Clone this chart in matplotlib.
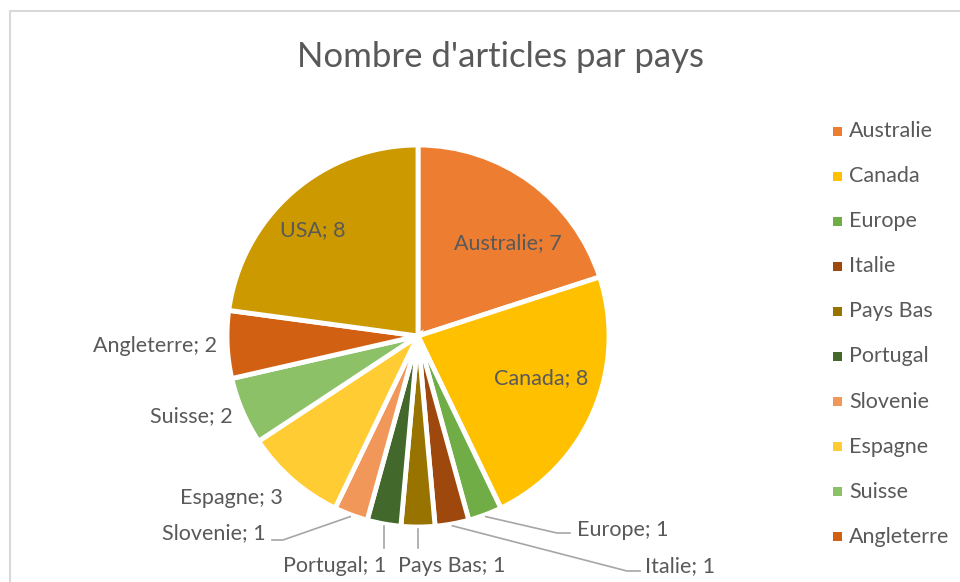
#!/usr/bin/python3

import numpy as np
import matplotlib
matplotlib.use("Agg")
import matplotlib.pyplot as plt
from matplotlib.patches import Rectangle

# data
pays = ["Australie", "Canada", "Europe", "Italie", "Pays Bas", "Portugal",
        "Slovenie", "Espagne", "Suisse", "Angleterre", "USA"]
articles = [7, 8, 1, 1, 1, 1, 1, 3, 2, 2, 8]
couleurs = ["#ED7D31", "#FFC000", "#70AD47", "#9E480E", "#997300", "#43682B",
            "#F1975A", "#FFCD33", "#8CC168", "#D26012", "#CC9A00"]
legende = pays[:10]   # USA is cut off at the bottom of the legend

W, H = 960, 582
CX, CY, R = 418, 336, 191   # pie centre / radius in pixels (from top)
TXT = "#595959"
FONT = "Lato"
FS = 15.5


def d(px, py):
    """pixel (from top-left) -> pie data coords"""
    return (px - CX) / R, (CY - py) / R


def f(px, py):
    """pixel (from top-left) -> figure fraction"""
    return px / W, 1 - py / H


# label layout in pixels: text x, text y, ha, elbow points of the leader line
inside = {"Australie": (508, 243), "Canada": (541, 378), "USA": (313, 230)}
outside = {
    "Europe": (577, 530, "left", [(557, 533), (570, 533)]),
    "Italie": (645, 566, "left", [(627, 571), (640, 571)]),
    "Pays Bas": (452, 566, "center", "vert"),
    "Portugal": (335, 566, "center", "vert"),
    "Slovenie": (266, 533, "right", [(283, 540), (272, 540)]),
    "Espagne": (283, 498, "right", None),
    "Suisse": (233, 416, "right", None),
    "Angleterre": (217, 346, "right", None),
}

fig = plt.figure(figsize=(W / 100, H / 100), dpi=100)
fig.patch.set_facecolor("white")

# chart frame (cropped on right and bottom)
fig.add_artist(Rectangle(f(10, 600), 1.2, (600 - 11) / H,
                         transform=fig.transFigure, fill=False,
                         edgecolor="#D9D9D9", linewidth=1.5))

ax = fig.add_axes([(CX - R) / W, (H - CY - R) / H, 2 * R / W, 2 * R / H])
wedges, _ = ax.pie(articles, colors=couleurs, startangle=90,
                   counterclock=False, radius=1,
                   wedgeprops=dict(edgecolor="white", linewidth=3.5))
ax.set_xlim(-1, 1)
ax.set_ylim(-1, 1)
ax.axis("off")

for w, nom, n in zip(wedges, pays, articles):
    lab = f"{nom}; {n}"
    mid = np.deg2rad((w.theta1 + w.theta2) / 2)
    if nom in inside:
        x, y = d(*inside[nom])
        ax.text(x, y, lab, ha="center", va="center", color=TXT,
                fontsize=FS, family=FONT)
        continue
    tx, ty, ha, elbow = outside[nom]
    x, y = d(tx, ty)
    ax.text(x, y, lab, ha=ha, va="center", color=TXT, fontsize=FS,
            family=FONT, clip_on=False)
    if elbow is None:
        continue
    p0 = (1.01 * np.cos(mid), 1.01 * np.sin(mid))
    if elbow == "vert":
        pts = [p0, (p0[0], d(0, 548)[1])]
    else:
        pts = [p0] + [d(*p) for p in elbow]
    xs, ys = zip(*pts)
    ax.plot(xs, ys, color="#A6A6A6", linewidth=1.2, clip_on=False)

# title
fig.text(*f(500, 57), "Nombre d'articles par pays", ha="center",
         va="center", color=TXT, fontsize=25, family=FONT)

# legend
for i, (nom, c) in enumerate(zip(legende, couleurs)):
    y = 131 + 45.1 * i
    fig.add_artist(Rectangle(f(833, y + 4.5), 9 / W, 9 / H,
                             transform=fig.transFigure, facecolor=c,
                             edgecolor="none"))
    fig.text(*f(849, y), nom, ha="left", va="center", color=TXT,
             fontsize=FS, family=FONT)

fig.savefig("out.png", dpi=100)
